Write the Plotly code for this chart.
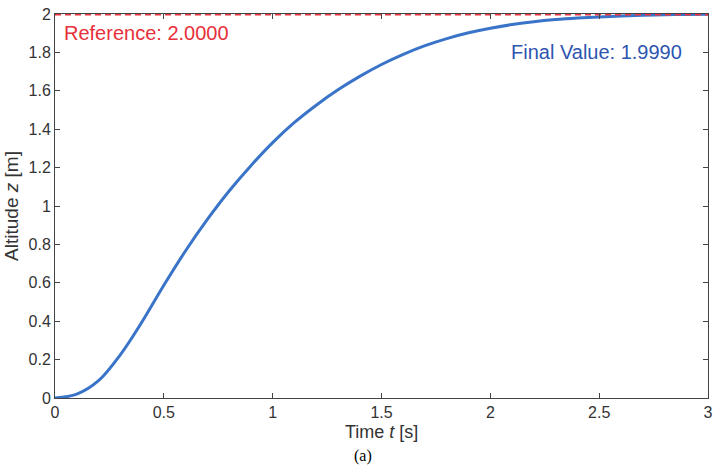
import plotly.graph_objects as go

t_vals = [0.0, 0.1, 0.2, 0.3, 0.4, 0.5, 0.6, 0.7, 0.8, 0.9, 1.0, 1.1, 1.2, 1.3, 1.4, 1.5,
          1.6, 1.7, 1.8, 1.9, 2.0, 2.1, 2.2, 2.3, 2.4, 2.5, 2.6, 2.7, 2.8, 2.9, 3.0]
z_vals = [0.0, 0.02, 0.09, 0.225, 0.397, 0.587, 0.767, 0.93, 1.078, 1.21, 1.33, 1.435, 1.525,
          1.605, 1.675, 1.737, 1.79, 1.835, 1.872, 1.902, 1.926, 1.945, 1.96, 1.971, 1.979,
          1.985, 1.99, 1.993, 1.996, 1.998, 1.999]
ref_t = [0.0, 3.0]
ref_z = [2.0, 2.0]
x_ticks = [0, 0.5, 1, 1.5, 2, 2.5, 3]
x_tick_text = ["0", "0.5", "1", "1.5", "2", "2.5", "3"]
y_ticks = [0, 0.2, 0.4, 0.6, 0.8, 1, 1.2, 1.4, 1.6, 1.8, 2]
y_tick_text = ["0", "0.2", "0.4", "0.6", "0.8", "1", "1.2", "1.4", "1.6", "1.8", "2"]

FONT = "Liberation Sans, Arial, Helvetica"

fig = go.Figure()
fig.add_trace(go.Scatter(x=t_vals, y=z_vals, mode="lines",
                         line=dict(color="#3a74c8", width=3, shape="spline", smoothing=1.0),
                         showlegend=False, cliponaxis=False))
fig.add_trace(go.Scatter(x=ref_t, y=ref_z, mode="lines",
                         line=dict(color="#ec3340", width=3, dash="6px,4px"),
                         showlegend=False, cliponaxis=False))

axis_common = dict(showgrid=False, zeroline=False, showline=True, linecolor="#444444", linewidth=1,
                   ticks="inside", ticklen=5, tickcolor="#444444", mirror="allticks",
                   tickfont=dict(family=FONT, size=16, color="#333333"))

fig.update_xaxes(range=[0, 3], tickvals=x_ticks, ticktext=x_tick_text, **axis_common)
fig.update_yaxes(range=[0, 2], tickvals=y_ticks, ticktext=y_tick_text,
                 title=dict(text="Altitude <i>z</i> [m]", font=dict(family=FONT, size=19, color="#333333"), standoff=4),
                 **axis_common)

fig.add_annotation(x=0.5, y=-0.089, xref="paper", yref="paper", text="Time <i>t</i> [s]", showarrow=False,
                   xanchor="center", yanchor="middle", font=dict(family=FONT, size=18, color="#333333"))
fig.add_annotation(x=0.03, y=1.9, xref="x", yref="y", text="Reference: 2.0000", showarrow=False,
                   xanchor="left", yanchor="middle", font=dict(family=FONT, size=20, color="#e8303a"))
fig.add_annotation(x=2.89, y=1.80, xref="x", yref="y", text="Final Value: 1.9990", showarrow=False,
                   xanchor="right", yanchor="middle", font=dict(family=FONT, size=20, color="#2e55b0"))
fig.add_annotation(x=0.471, y=-0.150, xref="paper", yref="paper", text="(a)", showarrow=False,
                   xanchor="center", yanchor="middle",
                   font=dict(family="Liberation Serif, Times New Roman", size=16, color="#000000"))

fig.update_layout(width=719, height=466, margin=dict(l=55, r=6, t=14, b=68),
                  plot_bgcolor="white", paper_bgcolor="white")

fig.write_html("out.html")
